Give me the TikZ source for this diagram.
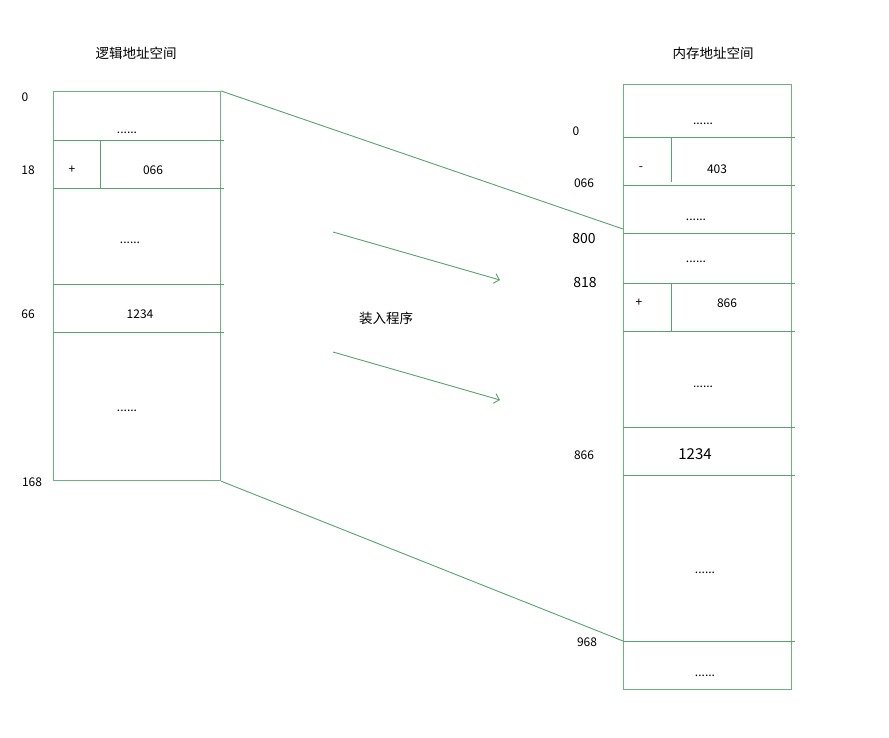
\documentclass[tikz,border=0pt]{standalone}
\usepackage{fontspec}
\setmainfont{Noto Sans CJK SC}
\usepackage{xcolor}
\usetikzlibrary{arrows.meta}
\definecolor{memgreen}{RGB}{86,164,108}
\tikzset{
  box/.style={draw=memgreen!85,line width=1.2pt,inner sep=0pt},
  sep/.style={draw=memgreen,line width=0.9pt},
  link/.style={draw=memgreen,line width=0.9pt},
  addr/.style={inner sep=0pt,font=\fontsize{12}{14}\selectfont},
  cell/.style={inner sep=0pt,font=\fontsize{12}{14}\selectfont},
  title/.style={inner sep=0pt,font=\fontsize{13.5}{16}\selectfont},
}

\begin{document}
\begin{tikzpicture}[x=1pt,y=-1pt,>={Straight Barb[length=5pt,width=10pt]}]
  \useasboundingbox (0,0) rectangle (889,737);
  % logical address space
  \node[title] (ltitle) at (136,53) {逻辑地址空间};
  \node[box,anchor=north west,minimum width=167pt,minimum height=389pt] (lmem) at (53,91) {};
  \foreach \y in {140,188,284,332}{\draw[sep] (53,\y) -- (224,\y);}
  \draw[sep] (100,140) -- (100,188);
  \node[addr] (l0) at (25,97) {0};
  \node[addr] (l18) at (28,170) {18};
  \node[addr] (l66) at (28,314) {66};
  \node[addr] (l168) at (32,482) {168};
  \node[cell] (ld1) at (127,133) {......};
  \node[cell] (lplus) at (72,170) {+};
  \node[cell] (lofs) at (153,170) {066};
  \node[cell] (ld2) at (130,243) {......};
  \node[cell] (ldata) at (140,314) {1234};
  \node[cell] (ld3) at (127,411) {......};
  % memory address space
  \node[title] (rtitle) at (713,53) {内存地址空间};
  \node[box,anchor=north west,minimum width=168pt,minimum height=605pt] (rmem) at (623,84) {};
  \foreach \y in {137,185,233,283,331,427,475,641}{\draw[sep] (623,\y) -- (795,\y);}
  \draw[sep] (671,137) -- (671,182);
  \draw[sep] (671,283) -- (671,331);
  \node[addr] (r0) at (576,131) {0};
  \node[addr] (r066) at (584,183) {066};
  \node[addr,font=\fontsize{14}{16}\selectfont] (r800) at (584,239) {800};
  \node[addr,font=\fontsize{14}{16}\selectfont] (r818) at (585,283) {818};
  \node[addr] (r866) at (584,455) {866};
  \node[addr] (r968) at (587,642) {968};
  \node[cell] (rd1) at (703,124) {......};
  \node[cell] (rminus) at (641,169) {-};
  \node[cell] (rofs1) at (717,169) {403};
  \node[cell] (rd2) at (696,220) {......};
  \node[cell] (rd3) at (696,262) {......};
  \node[cell] (rplus) at (639,303) {+};
  \node[cell] (rofs2) at (727,303) {866};
  \node[cell] (rd4) at (703,387) {......};
  \node[cell,font=\fontsize{15}{17}\selectfont] (rdata) at (695,454) {1234};
  \node[cell] (rd5) at (705,573) {......};
  \node[cell] (rd6) at (705,676) {......};
  % mapping
  \coordinate (rtop) at (623,229);
  \coordinate (rbot) at (623,641);
  \draw[link] (lmem.north east) -- (rtop);
  \draw[link] (lmem.south east) -- (rbot);
  \node[title] (loader) at (386,318) {装入程序};
  \coordinate (a1s) at (333,232);
  \coordinate (a1e) at (500,280);
  \coordinate (a2s) at (333,352);
  \coordinate (a2e) at (500,400);
  \draw[link,->] (a1s) -- (a1e);
  \draw[link,->] (a2s) -- (a2e);
\end{tikzpicture}
\end{document}
